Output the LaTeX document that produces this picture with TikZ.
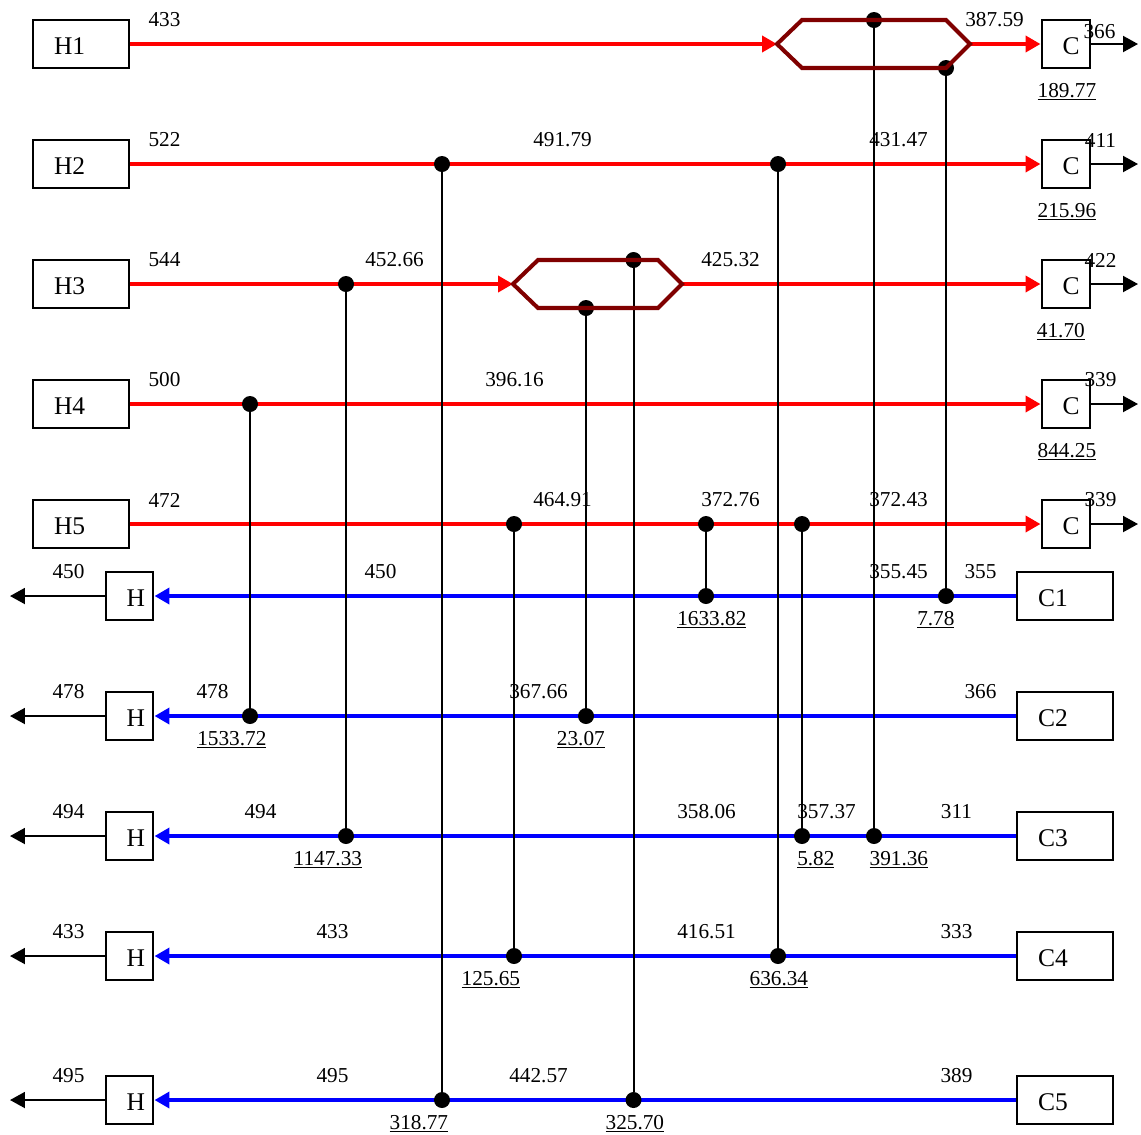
\documentclass[tikz,border=0pt]{standalone}
\usepackage{fontspec}
\setmainfont{Liberation Serif}
\usetikzlibrary{arrows.meta}
\definecolor{HexRed}{HTML}{800000}
\tikzset{
  bigbox/.style={draw,line width=1.14pt,fill=none,minimum height=.96cm,inner xsep=.42cm,text width=1.08cm,text height=14pt,text depth=2pt,align=left,font=\fontsize{14.5}{16}\selectfont},
  smallbox/.style={draw,line width=1.14pt,minimum height=.96cm,inner xsep=.42cm,text width=.12cm,text height=14pt,text depth=2pt,align=left,font=\fontsize{14.5}{16}\selectfont},
  hotline/.style={red,line width=2.3pt,-{Triangle[length=.3cm,width=.32cm]}},
  coldline/.style={blue,line width=2.3pt,-{Triangle[length=.3cm,width=.32cm]}},
  utilline/.style={black,line width=1.14pt,-{Triangle[length=.3cm,width=.32cm]}},
  matchline/.style={black,line width=1.14pt},
  matchdot/.style={circle,fill=black,inner sep=0pt,minimum size=.32cm},
  hexline/.style={HexRed,line width=2.3pt,line join=miter},
  tlabel/.style={inner sep=0pt,xshift=.3pt,yshift=-.57pt,font=\fontsize{12.1}{14}\selectfont},
  duty/.style={inner sep=0pt,anchor=base,xshift=.5pt,font=\fontsize{12.1}{14}\selectfont}
}
\begin{document}
\begin{tikzpicture}[x=.02cm,y=-.02cm]
\path[use as bounding box] (0,0) rectangle (1141,1134);
% hot side
\node[bigbox] (H1) at (81,44) {H1};
\node[bigbox] (H2) at (81,164) {H2};
\node[bigbox] (H3) at (81,284) {H3};
\node[bigbox] (H4) at (81,404) {H4};
\node[bigbox] (H5) at (81,524) {H5};
\node[smallbox] (CU1) at (1065.5,44) {C};
\node[smallbox] (CU2) at (1065.5,164) {C};
\node[smallbox] (CU3) at (1065.5,284) {C};
\node[smallbox] (CU4) at (1065.5,404) {C};
\node[smallbox] (CU5) at (1065.5,524) {C};
% cold side
\node[bigbox] (C1) at (1065,596) {C1};
\node[bigbox] (C2) at (1065,716) {C2};
\node[bigbox] (C3) at (1065,836) {C3};
\node[bigbox] (C4) at (1065,956) {C4};
\node[bigbox] (C5) at (1065,1100) {C5};
\node[smallbox] (HU1) at (129.5,596) {H};
\node[smallbox] (HU2) at (129.5,716) {H};
\node[smallbox] (HU3) at (129.5,836) {H};
\node[smallbox] (HU4) at (129.5,956) {H};
\node[smallbox] (HU5) at (129.5,1100) {H};
% free ends
\coordinate (outH1) at (1138,44);
\coordinate (outH2) at (1138,164);
\coordinate (outH3) at (1138,284);
\coordinate (outH4) at (1138,404);
\coordinate (outH5) at (1138,524);
\coordinate (outC1) at (10,596);
\coordinate (outC2) at (10,716);
\coordinate (outC3) at (10,836);
\coordinate (outC4) at (10,956);
\coordinate (outC5) at (10,1100);
% hexagon corners
\coordinate (hexAl) at (777,44);
\coordinate (hexAr) at (970,44);
\coordinate (hexBl) at (513,284);
\coordinate (hexBr) at (682,284);
% streams
\draw[hotline] (H1) -- (hexAl);
\draw[hotline] (hexAr) -- (CU1);
\draw[hotline] (H2) -- (CU2);
\draw[hotline] (H3) -- (hexBl);
\draw[hotline] (hexBr) -- (CU3);
\draw[hotline] (H4) -- (CU4);
\draw[hotline] (H5) -- (CU5);
\draw[coldline] (C1) -- (HU1);
\draw[coldline] (C2) -- (HU2);
\draw[coldline] (C3) -- (HU3);
\draw[coldline] (C4) -- (HU4);
\draw[coldline] (C5) -- (HU5);
\draw[utilline] (CU1) -- (outH1);
\draw[utilline] (CU2) -- (outH2);
\draw[utilline] (CU3) -- (outH3);
\draw[utilline] (CU4) -- (outH4);
\draw[utilline] (CU5) -- (outH5);
\draw[utilline] (HU1) -- (outC1);
\draw[utilline] (HU2) -- (outC2);
\draw[utilline] (HU3) -- (outC3);
\draw[utilline] (HU4) -- (outC4);
\draw[utilline] (HU5) -- (outC5);
% matches
\node[matchdot] (Ma) at (874,20) {};
\node[matchdot] (Mb) at (874,836) {};
\draw[matchline] (Ma) -- (Mb);
\node[matchdot] (Na) at (946,68) {};
\node[matchdot] (Nb) at (946,596) {};
\draw[matchline] (Na) -- (Nb);
\node[matchdot] (Oa) at (442,164) {};
\node[matchdot] (Ob) at (442,1100) {};
\draw[matchline] (Oa) -- (Ob);
\node[matchdot] (Pa) at (778,164) {};
\node[matchdot] (Pb) at (778,956) {};
\draw[matchline] (Pa) -- (Pb);
\node[matchdot] (Qa) at (346,284) {};
\node[matchdot] (Qb) at (346,836) {};
\draw[matchline] (Qa) -- (Qb);
\node[matchdot] (Ra) at (633.5,260) {};
\node[matchdot] (Rb) at (633.5,1100) {};
\draw[matchline] (Ra) -- (Rb);
\node[matchdot] (Sa) at (586,308) {};
\node[matchdot] (Sb) at (586,716) {};
\draw[matchline] (Sa) -- (Sb);
\node[matchdot] (Ta) at (250,404) {};
\node[matchdot] (Tb) at (250,716) {};
\draw[matchline] (Ta) -- (Tb);
\node[matchdot] (Ua) at (514,524) {};
\node[matchdot] (Ub) at (514,956) {};
\draw[matchline] (Ua) -- (Ub);
\node[matchdot] (Va) at (706,524) {};
\node[matchdot] (Vb) at (706,596) {};
\draw[matchline] (Va) -- (Vb);
\node[matchdot] (Wa) at (802,524) {};
\node[matchdot] (Wb) at (802,836) {};
\draw[matchline] (Wa) -- (Wb);
% internal exchangers
\draw[hexline] (hexAl) -- (802,20) -- (946,20) -- (hexAr) -- (946,68) -- (802,68) -- cycle;
\draw[hexline] (hexBl) -- (538,260) -- (658,260) -- (hexBr) -- (658,308) -- (538,308) -- cycle;
% temperatures, row by row
\node[tlabel] (a1) at (164,19) {433};
\node[tlabel] (a2) at (994,19) {387.59};
\node[tlabel] (a3) at (1099,31) {366};
\node[tlabel] (b1) at (164,139) {522};
\node[tlabel] (b2) at (562,139) {491.79};
\node[tlabel] (b3) at (898,139) {431.47};
\node[tlabel] (b4) at (1100,139) {411};
\node[tlabel] (c1) at (164,259) {544};
\node[tlabel] (c2) at (394,259) {452.66};
\node[tlabel] (c3) at (730,259) {425.32};
\node[tlabel] (c4) at (1100,259) {422};
\node[tlabel] (d1) at (164,379) {500};
\node[tlabel] (d2) at (514,379) {396.16};
\node[tlabel] (d3) at (1100,379) {339};
\node[tlabel] (e1) at (164,499) {472};
\node[tlabel] (e2) at (562,499) {464.91};
\node[tlabel] (e3) at (730,499) {372.76};
\node[tlabel] (e4) at (898,499) {372.43};
\node[tlabel] (e5) at (1100,499) {339};
\node[tlabel] (f1) at (68,571) {450};
\node[tlabel] (f2) at (380,571) {450};
\node[tlabel] (f3) at (898,571) {355.45};
\node[tlabel] (f4) at (980,571) {355};
\node[tlabel] (g1) at (68,691) {478};
\node[tlabel] (g2) at (212,691) {478};
\node[tlabel] (g3) at (538,691) {367.66};
\node[tlabel] (g4) at (980,691) {366};
\node[tlabel] (h1) at (68,811) {494};
\node[tlabel] (h2) at (260,811) {494};
\node[tlabel] (h3) at (706,811) {358.06};
\node[tlabel] (h4) at (826,811) {357.37};
\node[tlabel] (h5) at (956,811) {311};
\node[tlabel] (i1) at (68,931) {433};
\node[tlabel] (i2) at (332,931) {433};
\node[tlabel] (i3) at (706,931) {416.51};
\node[tlabel] (i4) at (956,931) {333};
\node[tlabel] (j1) at (68,1075) {495};
\node[tlabel] (j2) at (332,1075) {495};
\node[tlabel] (j3) at (538,1075) {442.57};
\node[tlabel] (j4) at (956,1075) {389};
% duties
\node[duty] (q1) at (1066,97) {\underline{189.77}};
\node[duty] (q2) at (1066,217) {\underline{215.96}};
\node[duty] (q3) at (1060,337) {\underline{41.70}};
\node[duty] (q4) at (1066,457) {\underline{844.25}};
\node[duty] (q5) at (711,625) {\underline{1633.82}};
\node[duty] (q6) at (935,625) {\underline{7.78}};
\node[duty] (q7) at (231,745) {\underline{1533.72}};
\node[duty] (q8) at (580,745) {\underline{23.07}};
\node[duty] (q9) at (327,865) {\underline{1147.33}};
\node[duty] (q10) at (815,865) {\underline{5.82}};
\node[duty] (q11) at (898,865) {\underline{391.36}};
\node[duty] (q12) at (490,985) {\underline{125.65}};
\node[duty] (q13) at (778,985) {\underline{636.34}};
\node[duty] (q14) at (418,1129) {\underline{318.77}};
\node[duty] (q15) at (634,1129) {\underline{325.70}};
\end{tikzpicture}
\end{document}
